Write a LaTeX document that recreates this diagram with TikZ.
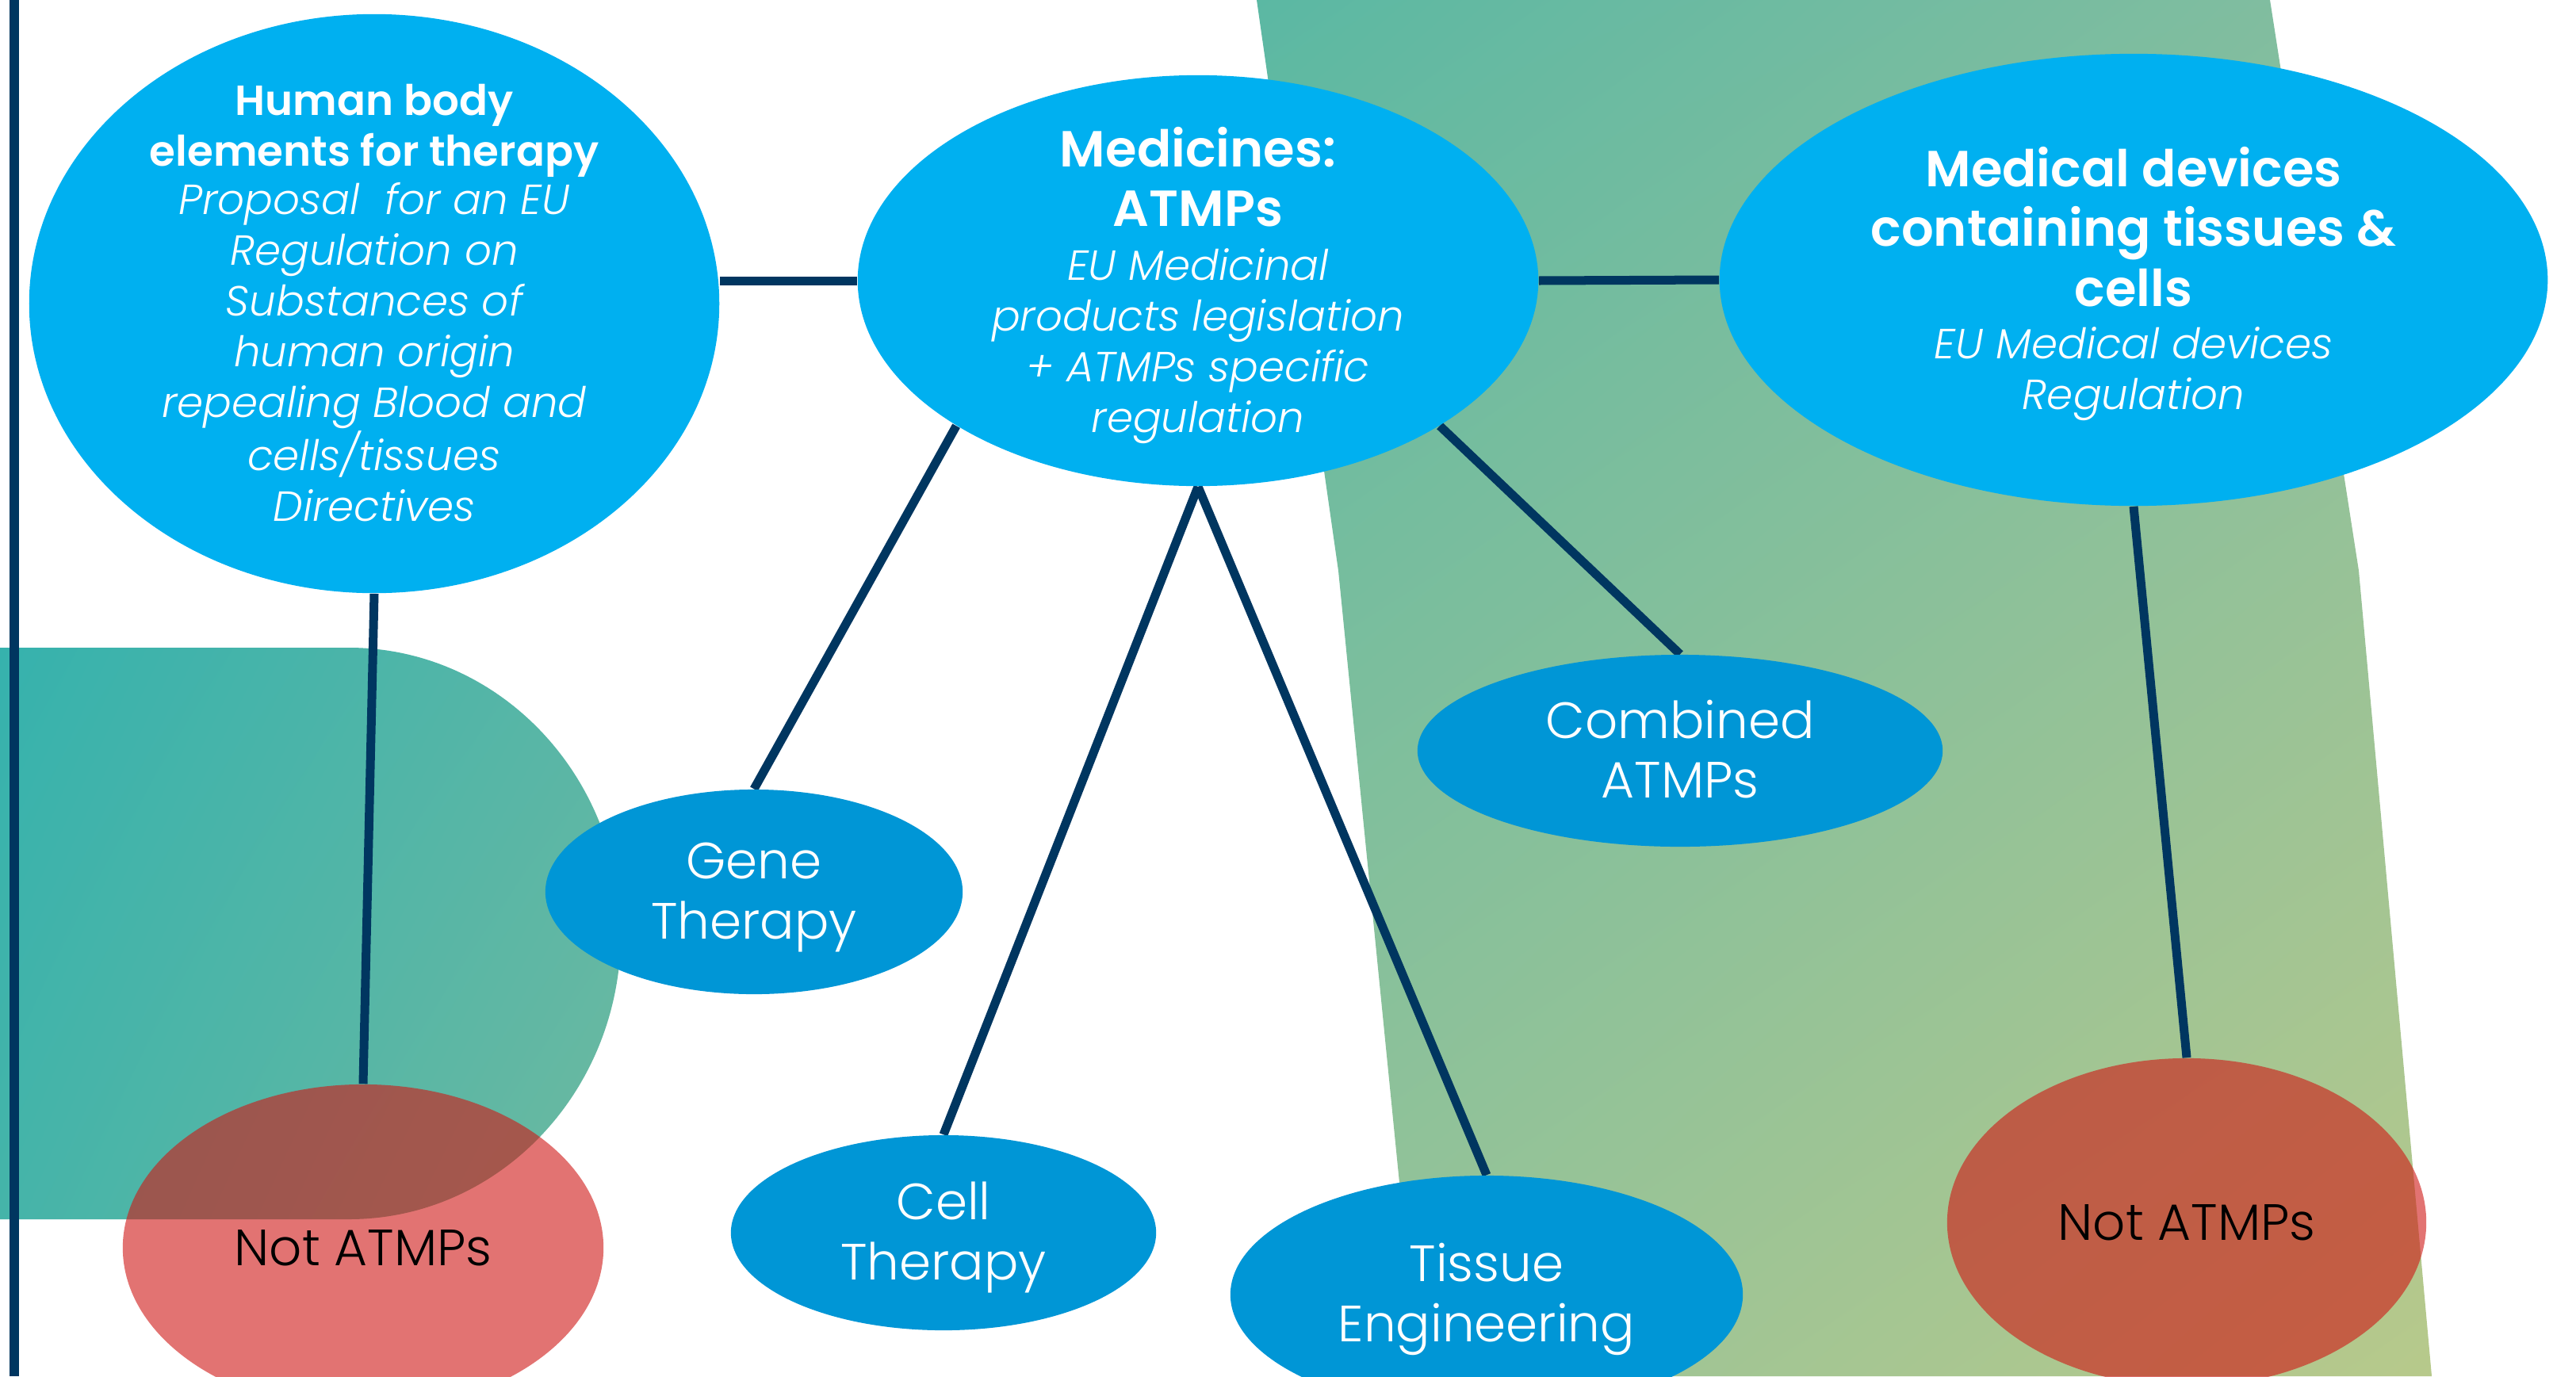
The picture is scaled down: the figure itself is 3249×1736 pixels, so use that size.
\documentclass[tikz,border=0pt]{standalone}
\usepackage{fontspec}
\setmainfont{Poppins}[UprightFont={* Light},ItalicFont={* Light Italic},BoldFont={* SemiBold},BoldItalicFont={* SemiBold Italic}]
\usetikzlibrary{shapes.geometric,shadings}
\definecolor{navy}{HTML}{003660}
\definecolor{cyanA}{HTML}{00B0F0}
\definecolor{blueB}{HTML}{0096D6}
\definecolor{redT}{HTML}{D01714}
\definecolor{bandUL}{HTML}{5BB8A3}
\definecolor{bandUR}{HTML}{86BE9F}
\definecolor{bandLL}{HTML}{95C399}
\definecolor{bandLR}{HTML}{B7C98B}
\definecolor{blobUL}{HTML}{36B2AD}
\definecolor{blobUR}{HTML}{5AB6A6}
\definecolor{blobLL}{HTML}{45B4A9}
\definecolor{blobLR}{HTML}{6DB9A0}
\pgfdeclarelayer{bgl}
\pgfdeclarelayer{lnl}
\pgfsetlayers{bgl,lnl,main}
\begin{document}
\begin{tikzpicture}[x=0.01cm,y=-0.01cm,
  bigE/.style={ellipse, fill=cyanA, inner sep=0pt, draw=none},
  smallE/.style={ellipse, fill=blueB, inner sep=0pt},
  lbl/.style={text=white, align=center, inner sep=0pt,
    font={\fontsize{18.3pt}{21.4pt}\selectfont}},
  notE/.style={ellipse, fill=redT, fill opacity=0.6, text opacity=1, inner sep=0pt,
    text=black, font={\fontsize{18.3pt}{21.4pt}\selectfont}},
  ttl/.style={text=white, align=center, inner sep=0pt,
    font={\fontsize{18.2pt}{21.5pt}\selectfont\bfseries}},
  httl/.style={text=white, align=center, inner sep=0pt,
    font={\fontsize{15.1pt}{18.2pt}\selectfont\bfseries}},
  bdy/.style={text=white, align=center, inner sep=0pt,
    font={\fontsize{15.1pt}{18.2pt}\selectfont\itshape}},
  conn/.style={draw=navy, line width=0.11cm}
]
\useasboundingbox (0,0) rectangle (3249,1736);

% background shapes
\begin{pgfonlayer}{bgl}
\fill[white] (0,0) rectangle (3249,1736);
\shade[upper left=bandUL, upper right=bandUR, lower left=bandLL, lower right=bandLR]
  (1585,0) -- (1688,720) -- (1765,1492) -- (1780,1736) -- (3067,1736) -- (2975,720) -- (2863,0) -- cycle;
\shade[upper left=blobUL, upper right=blobUR, lower left=blobLL, lower right=blobLR]
  (0,817) -- (440,817) .. controls (629.4,817) and (783,978.4) .. (783,1177.5)
  .. controls (783,1376.6) and (629.4,1538) .. (440,1538) -- (0,1538) -- cycle;
\end{pgfonlayer}

% nodes
\node[bigE, minimum width=8.70cm, minimum height=7.30cm] (hum) at (472,383) {};
\node[bigE, minimum width=8.58cm, minimum height=5.18cm] (med) at (1511,354) {};
\node[bigE, minimum width=10.44cm, minimum height=5.70cm] (dev) at (2691,353) {};

\node[httl] (humttl) at (472,165) {Human body\\elements for therapy};
\node[bdy] (humbdy) at (472,444) {Proposal~ for an EU\\Regulation on\\Substances of\\human origin\\repealing Blood and\\cells/tissues\\Directives};
\node[ttl] (medttl) at (1511,223) {Medicines:\\ATMPs};
\node[bdy] (medbdy) at (1511,437) {EU Medicinal\\products legislation\\+ ATMPs specific\\regulation};
\node[ttl] (devttl) at (2691,286) {Medical devices\\containing tissues \&\\cells};
\node[bdy] (devbdy) at (2691,472) {EU Medical devices\\Regulation};

\node[smallE, minimum width=5.26cm, minimum height=2.58cm] (gene) at (951,1125) {};
\node[smallE, minimum width=6.62cm, minimum height=2.42cm] (comb) at (2119,947) {};
\node[smallE, minimum width=5.36cm, minimum height=2.46cm] (cell) at (1190,1555) {};
\node[smallE, minimum width=6.46cm, minimum height=3.00cm] (tiss) at (1875,1633) {};
\node[lbl] (genetxt) at (951,1132) {Gene\\Therapy};
\node[lbl] (combtxt) at (2119,945) {Combined\\ATMPs};
\node[lbl] (celltxt) at (1190,1561) {Cell\\Therapy};
\node[lbl] (tisstxt) at (1875,1639) {Tissue\\Engineering};
\node[notE, minimum width=6.06cm, minimum height=4.12cm] (notL) at (458,1574) {Not ATMPs};
\node[notE, minimum width=6.04cm, minimum height=4.14cm] (notR) at (2758,1542) {Not ATMPs};

% connectors
\coordinate (lt) at (18,0);
\coordinate (lb) at (18,1736);
\begin{pgfonlayer}{lnl}
\draw[conn] (lt) -- (lb);
\draw[conn] (hum.south) -- (notL.north);
\draw[conn] (med.west -| hum.east) -- (med.west);
\draw[conn] (med.east) -- (dev.west);
\draw[conn] (med.211) -- (gene.north);
\draw[conn] (med.south) -- (cell.north);
\draw[conn] (med.south) -- (tiss.north);
\draw[conn] (med.329) -- (comb.north);
\draw[conn] (dev.south) -- (notR.north);
\end{pgfonlayer}
\end{tikzpicture}
\end{document}
